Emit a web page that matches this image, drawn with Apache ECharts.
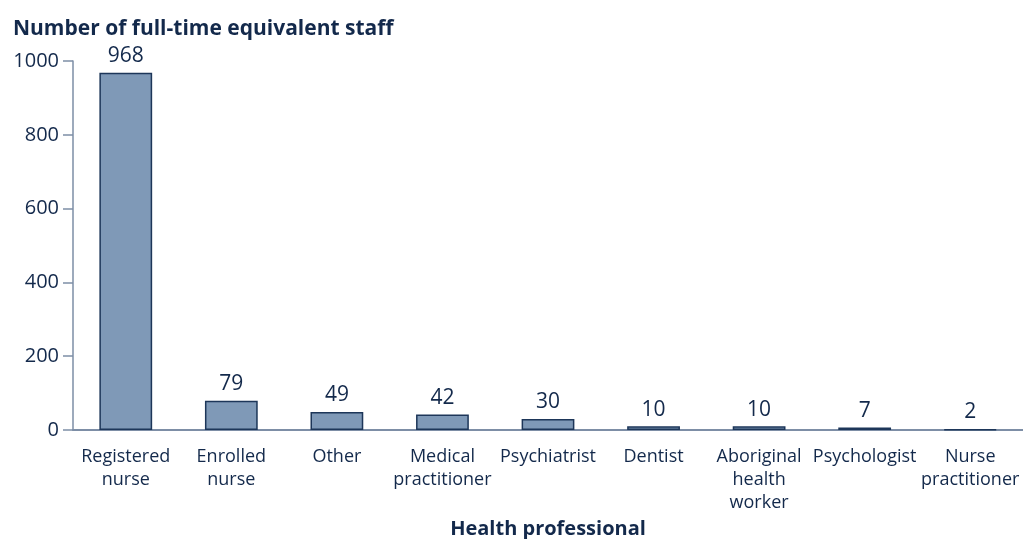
<!DOCTYPE html>
<html>
<head>
<meta charset="utf-8">
<script src="https://cdn.jsdelivr.net/npm/echarts@6/dist/echarts.min.js"></script>
<style>
  html, body { margin: 0; padding: 0; background: #fff; }
  #main { width: 1023px; height: 539px; }
</style>
</head>
<body>
<div id="main"></div>
<script>
var categories = ['Registered\nnurse', 'Enrolled\nnurse', 'Other', 'Medical\npractitioner',
    'Psychiatrist', 'Dentist', 'Aboriginal\nhealth\nworker', 'Psychologist', 'Nurse\npractitioner'];
var staff = [968, 79, 49, 42, 30, 10, 10, 7, 2];
var yTicks = [0, 200, 400, 600, 800, 1000];

var navy = '#13294b';
var font = 'Open Sans';

function initChart() {
    var myChart = echarts.init(document.getElementById('main'));
    var option = {
        animation: false,
        textStyle: { fontFamily: font, color: navy },
        title: {
            text: 'Number of full-time equivalent staff',
            left: 8,
            top: 14,
            textStyle: { fontFamily: font, fontSize: 21, fontWeight: 'bold', color: navy }
        },
        grid: { left: 73, right: 0, top: 61, bottom: 109, containLabel: false, outerBoundsMode: 'none' },
        xAxis: {
            type: 'category',
            data: categories,
            name: 'Health professional',
            nameLocation: 'middle',
            nameGap: 84,
            nameTextStyle: { fontFamily: font, fontSize: 20, fontWeight: 'bold', color: navy },
            axisLine: { lineStyle: { color: '#7d8ea6', width: 2 } },
            axisTick: { show: false },
            axisLabel: {
                interval: 0,
                fontSize: 18,
                lineHeight: 23,
                margin: 15,
                color: navy
            }
        },
        yAxis: {
            type: 'value',
            min: 0,
            max: 1000,
            interval: 200,
            axisLine: { show: true, lineStyle: { color: '#7d8ea6', width: 1.5 } },
            axisTick: { show: true, length: 10, lineStyle: { color: '#7d8ea6', width: 1.5 } },
            splitLine: { show: false },
            axisLabel: {
                fontSize: 20,
                margin: 14,
                color: navy,
                formatter: function (v) { return yTicks.indexOf(v) >= 0 ? String(v) : ''; }
            }
        },
        series: [
            {
                type: 'bar',
                data: staff,
                barWidth: '50%',
                itemStyle: { color: '#7f99b7', borderColor: '#1d3659', borderWidth: 1.5 },
                label: {
                    show: true,
                    position: 'top',
                    distance: 6,
                    fontSize: 21,
                    color: navy
                }
            }
        ]
    };
    myChart.setOption(option, true);
    return myChart;
}

window.onload = function () {
    var chart = initChart();
    window.onresize = function () { chart.resize(); };
};
</script>
</body>
</html>
